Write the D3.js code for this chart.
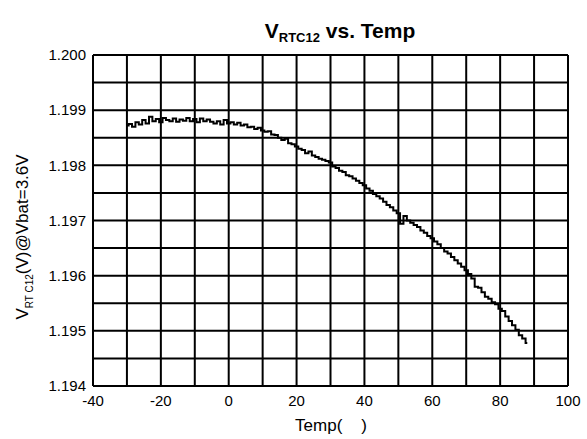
<!DOCTYPE html>
<html><head><meta charset="utf-8">
<script src="https://cdn.jsdelivr.net/npm/d3@7"></script>
<style>body{margin:0;background:#fff}svg{display:block}</style>
</head><body>
<svg id="c" width="587" height="439"></svg>
<script>
const temps = [-30,-29,-28,-27,-26,-25,-24,-23,-22,-21,-20,-19,-18,-17,-16,-15,-14,-13,-12,-11,-10,-9,-8,-7,-6,-5,-4,-3,-2,-1,0,1,2,3,4,5,6,7,8,9,10,11,12,13,14,15,16,17,18,19,20,21,22,23,24,25,26,27,28,29,30,31,32,33,34,35,36,37,38,39,40,41,42,43,44,45,46,47,48,49,50,51,52,53,54,55,56,57,58,59,60,61,62,63,64,65,66,67,68,69,70,71,72,73,74,75,76,77,78,79,80,81,82,83,84,85,86,87,88];
const vrtc = [1.19872,1.19875,1.19870,1.19878,1.19874,1.19882,1.19876,1.19888,1.19880,1.19884,1.19878,1.19886,1.19882,1.19880,1.19885,1.19879,1.19883,1.19881,1.19886,1.19880,1.19884,1.19878,1.19885,1.19880,1.19883,1.19879,1.19876,1.19880,1.19874,1.19882,1.19876,1.19878,1.19874,1.19877,1.19872,1.19874,1.19869,1.19870,1.19866,1.19868,1.19863,1.19861,1.19862,1.19856,1.19855,1.19850,1.19846,1.19848,1.19840,1.19838,1.19834,1.19830,1.19828,1.19822,1.19825,1.19818,1.19815,1.19812,1.19810,1.19808,1.19805,1.19798,1.19795,1.19790,1.19788,1.19782,1.19780,1.19776,1.19772,1.19768,1.19764,1.19758,1.19754,1.19748,1.19744,1.19740,1.19734,1.19728,1.19724,1.19718,1.19713,1.19694,1.19708,1.19700,1.19696,1.19692,1.19688,1.19682,1.19678,1.19672,1.19668,1.19662,1.19657,1.19650,1.19644,1.19640,1.19634,1.19628,1.19622,1.19616,1.19610,1.19603,1.19595,1.19580,1.19578,1.19570,1.19562,1.19558,1.19552,1.19548,1.19540,1.19536,1.19526,1.19518,1.19510,1.19502,1.19492,1.19486,1.19478];
const xTicks = [-40,-20,0,20,40,60,80,100];
const xGrid = [-40,-30,-20,-10,0,10,20,30,40,50,60,70,80,90,100];
const yTicks = [1.194,1.195,1.196,1.197,1.198,1.199,1.200];
const yGrid = [1.194,1.1945,1.195,1.1955,1.196,1.1965,1.197,1.1975,1.198,1.1985,1.199,1.1995,1.200];

const svg = d3.select("#c");
const L=93, R=568, T=55, B=386;
const x = d3.scaleLinear().domain([-40,100]).range([L,R]);
const y = d3.scaleLinear().domain([1.194,1.200]).range([B,T]);
const font = "'Liberation Sans', Arial, sans-serif";

const g = svg.append("g");
g.selectAll("line.v").data(xGrid).join("line")
  .attr("x1",d=>x(d)).attr("x2",d=>x(d)).attr("y1",T).attr("y2",B)
  .attr("stroke","#000").attr("stroke-width",2);
g.selectAll("line.h").data(yGrid).join("line").attr("class","h")
  .attr("x1",L).attr("x2",R).attr("y1",d=>y(d)).attr("y2",d=>y(d))
  .attr("stroke","#000").attr("stroke-width",2);

const data = temps.map((t,i)=>[t,vrtc[i]]);
svg.append("path").datum(data)
  .attr("fill","none").attr("stroke","#000").attr("stroke-width",2)
  .attr("d", d3.line().x(d=>x(d[0])).y(d=>y(d[1])).curve(d3.curveStep));

svg.selectAll("text.yt").data(yTicks).join("text").attr("class","yt")
  .attr("x",L-7).attr("y",d=>y(d)).attr("dy","0.35em").attr("text-anchor","end")
  .attr("font-family",font).attr("font-size",15).text(d=>d3.format(".3f")(d));
svg.selectAll("text.xt").data(xTicks).join("text").attr("class","xt")
  .attr("x",d=>x(d)).attr("y",B+20).attr("text-anchor","middle")
  .attr("font-family",font).attr("font-size",15).text(d=>d);

svg.append("text").attr("x",331).attr("y",431).attr("text-anchor","middle")
  .attr("font-family",font).attr("font-size",17).attr("xml:space","preserve").text("Temp(    )");

const tt = svg.append("text").attr("x",340).attr("y",38).attr("text-anchor","middle")
  .attr("font-family",font).attr("font-size",21).attr("font-weight","bold");
tt.append("tspan").text("V");
tt.append("tspan").attr("font-size",13).attr("dy",4).text("RTC12");
tt.append("tspan").attr("dy",-4).text(" vs. Temp");

const yl = svg.append("text").attr("transform","translate(28,237) rotate(-90)")
  .attr("text-anchor","middle").attr("font-family",font).attr("font-size",17);
yl.append("tspan").text("V");
yl.append("tspan").attr("font-size",10).attr("dy",5).attr("xml:space","preserve").text("RT C12");
yl.append("tspan").attr("dy",-5).text("(V)@Vbat=3.6V");
</script>
</body></html>
